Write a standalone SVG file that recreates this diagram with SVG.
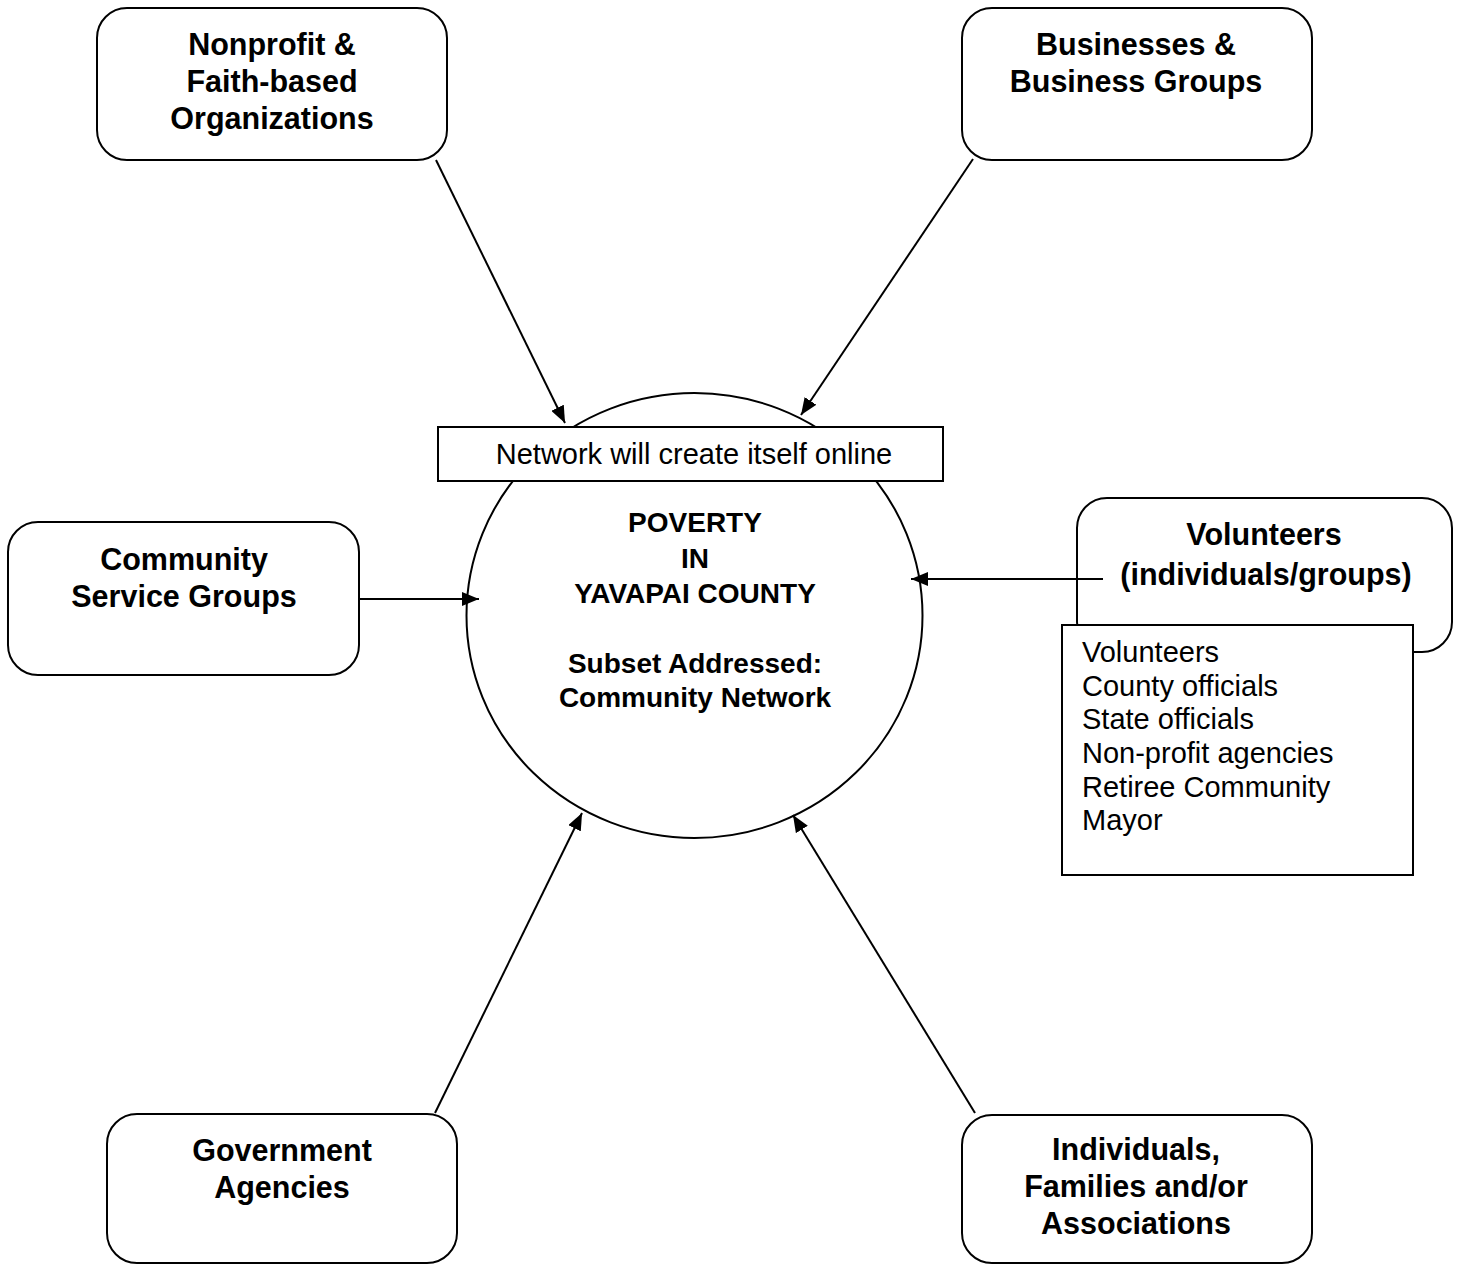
<svg xmlns="http://www.w3.org/2000/svg" width="1460" height="1265" viewBox="0 0 1460 1265">
  <style>
    .box { fill: #ffffff; stroke: #000000; stroke-width: 2; }
    .lbl { font-family: "Liberation Sans", Arial, sans-serif; font-weight: bold; font-size: 30.5px; text-anchor: middle; fill: #000000; }
    .core { font-family: "Liberation Sans", Arial, sans-serif; font-weight: bold; font-size: 28px; text-anchor: middle; fill: #000000; }
    .plain { font-family: "Liberation Sans", Arial, sans-serif; font-size: 29px; fill: #000000; }
    .conn { stroke: #000000; stroke-width: 2; fill: none; marker-end: url(#head); }
  </style>
  <defs>
    <marker id="head" markerUnits="userSpaceOnUse" markerWidth="18" markerHeight="14" refX="17" refY="7" orient="auto">
      <path d="M0,0 L17,7 L0,14 Z" fill="#000000"/>
    </marker>
  </defs>
  <rect width="1460" height="1265" fill="#ffffff"/>

  <!-- central topic -->
  <g id="poverty">
    <ellipse class="box" cx="694.5" cy="615.5" rx="228" ry="222.5" stroke-width="1.6"/>
    <text class="core" x="695" y="532">POVERTY</text>
    <text class="core" x="695" y="568">IN</text>
    <text class="core" x="695" y="603">YAVAPAI COUNTY</text>
    <text class="core" x="695" y="673">Subset Addressed:</text>
    <text class="core" x="695" y="707">Community Network</text>
  </g>

  <g id="online-note">
    <rect class="box" x="438" y="427" width="505" height="54"/>
    <text class="plain" x="694" y="464" text-anchor="middle">Network will create itself online</text>
  </g>

  <g id="nonprofit">
    <rect class="box" x="97" y="8" width="350" height="152" rx="30" ry="30"/>
    <text class="lbl" x="272" y="55">Nonprofit &amp;</text>
    <text class="lbl" x="272" y="92">Faith-based</text>
    <text class="lbl" x="272" y="129">Organizations</text>
  </g>

  <g id="businesses">
    <rect class="box" x="962" y="8" width="350" height="152" rx="30" ry="30"/>
    <text class="lbl" x="1136" y="55">Businesses &amp;</text>
    <text class="lbl" x="1136" y="92">Business Groups</text>
  </g>

  <g id="community-service">
    <rect class="box" x="8" y="522" width="351" height="153" rx="30" ry="30"/>
    <text class="lbl" x="184" y="570">Community</text>
    <text class="lbl" x="184" y="607">Service Groups</text>
  </g>

  <g id="volunteers">
    <rect class="box" x="1077" y="498" width="375" height="154" rx="30" ry="30"/>
    <text class="lbl" x="1264" y="545">Volunteers</text>
    <text class="lbl" x="1266" y="585">(individuals/groups)</text>
  </g>

  <g id="volunteer-list">
    <rect class="box" x="1062" y="625" width="351" height="250"/>
    <text class="plain" x="1082" y="662">Volunteers</text>
    <text class="plain" x="1082" y="696">County officials</text>
    <text class="plain" x="1082" y="729">State officials</text>
    <text class="plain" x="1082" y="763">Non-profit agencies</text>
    <text class="plain" x="1082" y="797">Retiree Community</text>
    <text class="plain" x="1082" y="830">Mayor</text>
  </g>

  <g id="government">
    <rect class="box" x="107" y="1114" width="350" height="149" rx="30" ry="30"/>
    <text class="lbl" x="282" y="1161">Government</text>
    <text class="lbl" x="282" y="1198">Agencies</text>
  </g>

  <g id="individuals">
    <rect class="box" x="962" y="1115" width="350" height="148" rx="30" ry="30"/>
    <text class="lbl" x="1136" y="1160">Individuals,</text>
    <text class="lbl" x="1136" y="1197">Families and/or</text>
    <text class="lbl" x="1136" y="1234">Associations</text>
  </g>

  <!-- arrows into the central topic -->
  <g id="connectors">
    <line class="conn" x1="436" y1="160" x2="565" y2="423"/>
    <line class="conn" x1="973" y1="159" x2="801" y2="415"/>
    <line class="conn" x1="359" y1="599" x2="479" y2="599"/>
    <line class="conn" x1="1103" y1="579" x2="911" y2="579"/>
    <line class="conn" x1="435" y1="1113" x2="582" y2="813"/>
    <line class="conn" x1="975" y1="1113" x2="793" y2="815"/>
  </g>
</svg>
